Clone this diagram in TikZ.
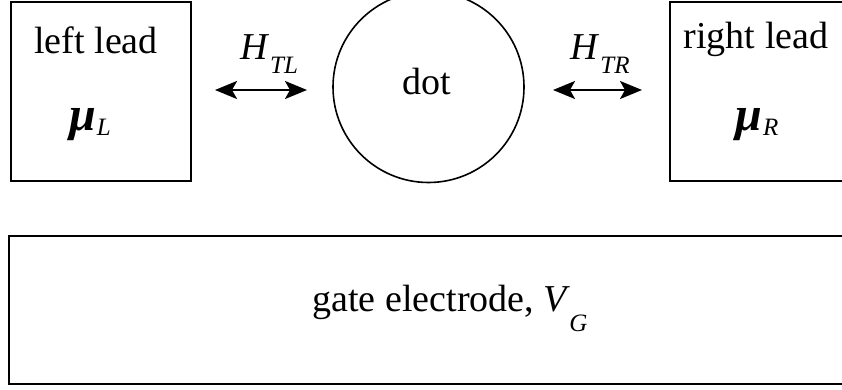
\documentclass[tikz,border=0pt]{standalone}
\usepackage{fontspec}
\setmainfont{Liberation Serif}
\usetikzlibrary{arrows.meta}
\newcommand{\subtxt}[2]{\raisebox{#1}{\fontsize{25}{25}\selectfont\itshape #2}}
\newcommand{\mubig}{{\fontsize{48}{48}\selectfont\textbf{\textit{μ}}}}
\tikzset{
  frame/.style={draw=black, line width=1.6pt, inner sep=0pt},
  lbl/.style={font=\fontsize{38}{40}\selectfont, anchor=base, inner sep=0pt},
  dbl/.style={line width=2.2pt, {Stealth[length=22pt,width=18pt,inset=5pt]}-{Stealth[length=22pt,width=18pt,inset=5pt]}}
}
\begin{document}
\begin{tikzpicture}[x=1pt,y=-1pt]
\useasboundingbox (0,0) rectangle (842,390);
\clip (0,0) rectangle (842,390);
% boxes
\node[frame, minimum width=180pt, minimum height=179pt] (leftbox) at (101,91.5) {};
\node[frame, minimum width=200pt, minimum height=179pt] (rightbox) at (770,91.5) {};
\node[frame, circle, minimum size=191pt] (dot) at (428.5,87) {};
\node[frame, minimum width=860pt, minimum height=148pt] (gate) at (439,310) {};
% texts
\node[lbl] (tll) at (96,54) {left lead};
\node[lbl] (tmul) at (90,131) {\mubig\kern1pt\subtxt{-5pt}{L}};
\node[lbl] (tdot) at (427,95) {dot};
\node[lbl] (trl) at (756,49) {right lead};
\node[lbl] (tmur) at (757,131) {\mubig\kern1pt\subtxt{-5pt}{R}};
\node[lbl] (thtl) at (269,60) {\textit{H}\kern1pt\subtxt{-14pt}{TL}};
\node[lbl] (thtr) at (600,60) {\textit{H}\kern1pt\subtxt{-14pt}{TR}};
\node[lbl] (tgate) at (450,311) {gate electrode, \textit{V}\kern-1pt\subtxt{-20pt}{G}};
% arrows
\coordinate (al1) at (215,90);
\coordinate (al2) at (307,90);
\coordinate (ar1) at (553,90);
\coordinate (ar2) at (642,90);
\draw[dbl] (al1) -- (al2);
\draw[dbl] (ar1) -- (ar2);
\end{tikzpicture}
\end{document}
